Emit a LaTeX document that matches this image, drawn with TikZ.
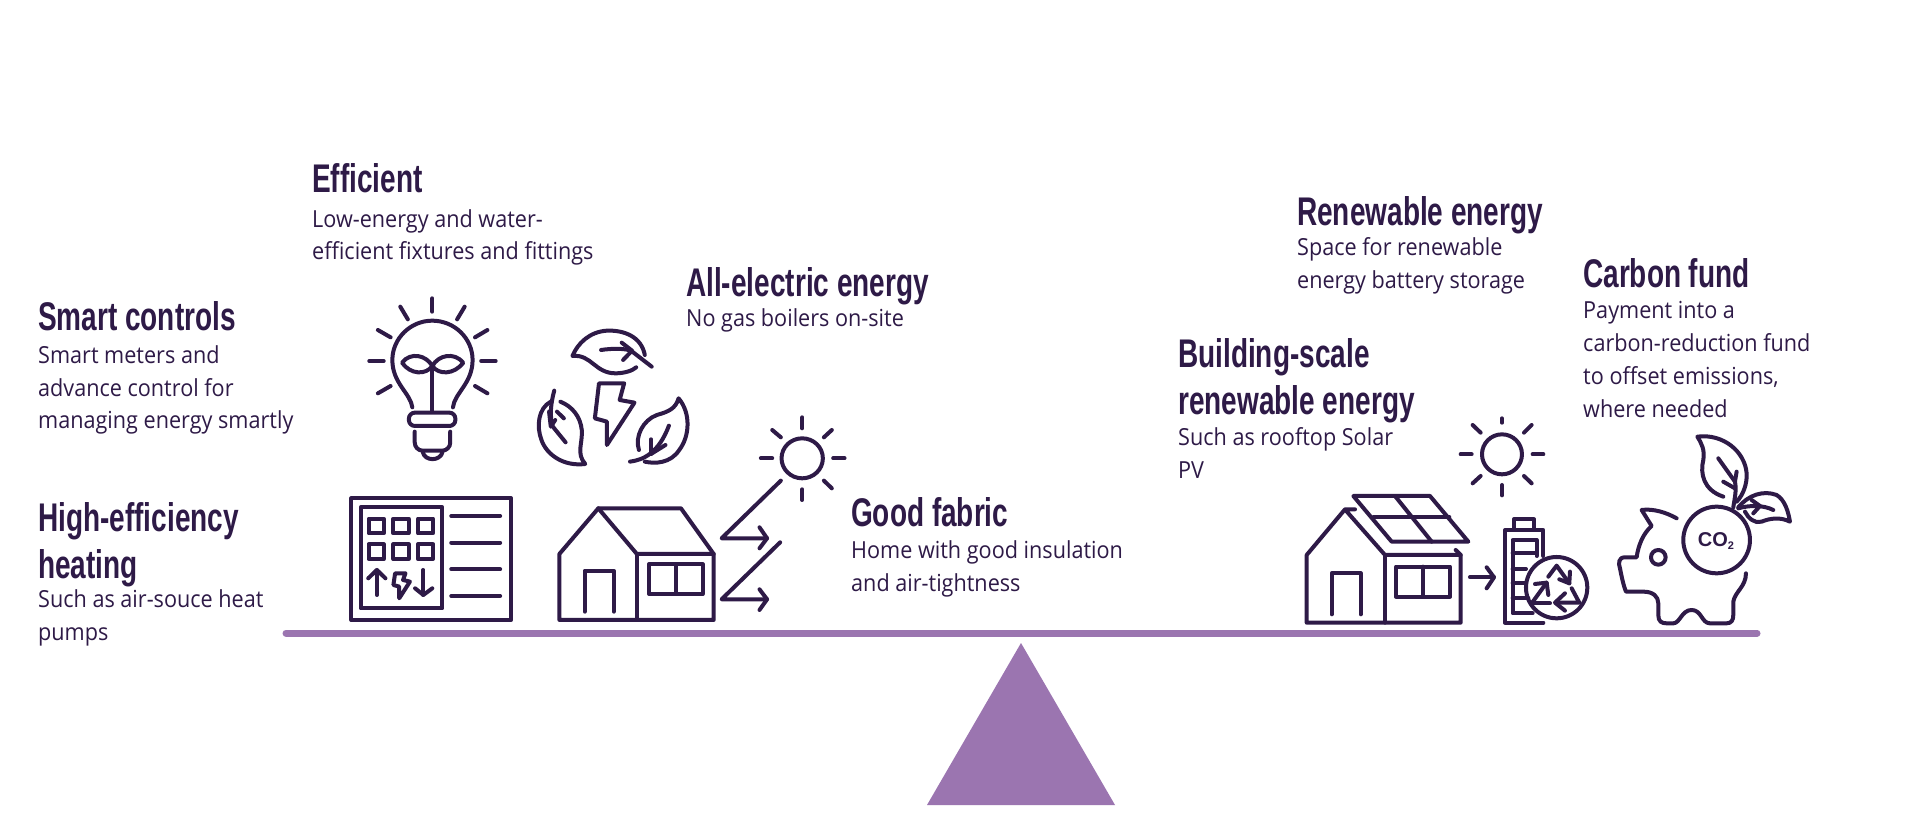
\documentclass[tikz,border=0pt]{standalone}
\usepackage{fontspec}
\setmainfont{Open Sans}
\newfontfamily\headfont[FakeStretch=0.70]{Liberation Sans Bold}
\newfontfamily\bodyfont[FakeStretch=0.92]{Open Sans}
\newfontfamily\cofont{Liberation Sans Bold}
\definecolor{ink}{HTML}{2E1A47}
\definecolor{lilac}{HTML}{9B75B0}
\tikzset{
  head/.style={inner sep=0pt,anchor=base west,align=left,text=ink,font=\headfont\fontsize{40}{47}\selectfont},
  body/.style={inner sep=0pt,anchor=base west,align=left,text=ink,font=\bodyfont\fontsize{23.5}{33}\selectfont},
  icon/.style={draw=ink,line width=4.6pt,line cap=round,line join=round},
  thinicon/.style={draw=ink,line width=4pt,line cap=round,line join=round},
  zoomA/.style={shift={(340,280)},xscale=0.3444,yscale=0.3333},
  zoomB/.style={shift={(1290,420)},xscale=0.3333,yscale=0.3333},
}
\begin{document}
\begin{tikzpicture}[x=1pt,y=-1pt]
\useasboundingbox[fill=white] (0,0) rectangle (1920,840);
% beam and fulcrum
\draw[lilac,line width=7pt,line cap=round] (286,633) -- (1757,633);
\fill[lilac] (1021,643) -- (1115,805) -- (927,805) -- cycle;

% texts
\node[head] (h1) at (312,193) {Efficient};
\node[body] (b1) at (312,227) {Low-energy and water-};
\node[body] (b1b) at (312,259) {efficient fixtures and fittings};
\node[head] (h2) at (38,330) {Smart controls};
\node[body] (b2) at (38,363) {Smart meters and};
\node[body] (b2b) at (38,396) {advance control for};
\node[body] (b2c) at (38,428) {managing energy smartly};
\node[head] (h3) at (686,296) {All-electric energy};
\node[body] (b3) at (686,326) {No gas boilers on-site};
\node[head] (h4) at (851,526) {Good fabric};
\node[body] (b4) at (851,558) {Home with good insulation};
\node[body] (b4b) at (851,591) {and air-tightness};
\node[head] (h5) at (38,531) {High-efficiency};
\node[head] (h5b) at (38,578) {heating};
\node[body] (b5) at (38,607) {Such as air-souce heat};
\node[body] (b5b) at (38,640) {pumps};
\node[head] (h6) at (1297,225) {Renewable energy};
\node[body] (b6) at (1297,255) {Space for renewable};
\node[body] (b6b) at (1297,288) {energy battery storage};
\node[head] (h7) at (1583,287) {Carbon fund};
\node[body] (b7) at (1583,318) {Payment into a};
\node[body] (b7b) at (1583,351) {carbon-reduction fund};
\node[body] (b7c) at (1583,384) {to offset emissions,};
\node[body] (b7d) at (1583,417) {where needed};
\node[head] (h8) at (1178,367) {Building-scale};
\node[head] (h8b) at (1178,414) {renewable energy};
\node[body] (b8) at (1178,445) {Such as rooftop Solar};
\node[body] (b8b) at (1178,478) {PV};

% left icons
\begin{scope}[zoomA]
 % bulb
 \draw[thinicon] (210,382) .. controls (205,340) and (152,310) .. (152,240) .. controls (152,175) and (205,122) .. (268,122) .. controls (332,122) and (385,175) .. (385,240) .. controls (385,310) and (332,340) .. (328,382);
 \draw[thinicon] (268,258) -- (268,395);
 \draw[thinicon] (268,258) .. controls (250,225) and (205,215) .. (180,248) .. controls (205,285) and (250,285) .. (268,258) .. controls (286,225) and (331,215) .. (358,248) .. controls (331,285) and (286,285) .. (268,258);
 \draw[thinicon,rounded corners=6pt] (200,398) rectangle (335,438);
 \draw[thinicon,rounded corners=8pt] (217,455) -- (217,512) -- (320,512) -- (320,455);
 \draw[thinicon] (240,515) .. controls (245,545) and (292,545) .. (298,515);
 \foreach \a/\b/\c/\d in {268/55/268/95,175/80/197/118,362/80/340/118,110/150/147/172,428/150/392/172,85/243/127/243,410/243/452/243,110/340/147/318,428/340/392/318}
   \draw[thinicon] (\a,\b) -- (\c,\d);
 % top leaf
 \draw[thinicon] (885,225) .. controls (875,170) and (825,150) .. (775,152) .. controls (725,155) and (690,190) .. (675,228) .. controls (730,222) and (740,280) .. (800,280) .. controls (825,280) and (850,272) .. (860,262);
 \draw[thinicon] (758,210) .. controls (790,205) and (825,205) .. (845,212) -- (905,260);
 \draw[thinicon] (818,188) -- (848,212) -- (822,240);
 % left leaf
 \draw[thinicon] (612,365) .. controls (575,385) and (570,440) .. (585,480) .. controls (600,525) and (650,560) .. (712,552) .. controls (685,520) and (705,490) .. (702,450) .. controls (698,410) and (675,380) .. (640,365);
 \draw[thinicon] (622,332) .. controls (612,370) and (608,410) .. (618,440) -- (655,487);
 \draw[thinicon] (630,395) -- (650,415);
 \draw[thinicon] (607,395) -- (612,440) -- (625,420);
 % right leaf
 \draw[thinicon] (868,510) .. controls (855,470) and (880,420) .. (920,405) .. controls (955,395) and (975,385) .. (983,355) .. controls (1020,400) and (1015,470) .. (985,510) .. controls (960,550) and (915,552) .. (885,545);
 \draw[thinicon] (842,545) .. controls (880,540) and (925,520) .. (955,437);
 \draw[thinicon] (903,478) -- (903,522);
 \draw[thinicon] (903,522) -- (945,495);
 % bolt
 \draw[thinicon] (752,310) -- (825,310) -- (812,360) -- (855,368) -- (775,495) -- (775,425) -- (740,415) -- cycle;
 % sun
 \draw[thinicon] (1342,535) ellipse [x radius=60,y radius=60];
 \foreach \a/\b/\c/\d in {1342/412/1342/445,1342/628/1342/660,1222/535/1255/535,1432/535/1465/535,1255/450/1280/472,1428/450/1405/472,1405/602/1428/625}
   \draw[thinicon] (\a,\b) -- (\c,\d);
 \draw[thinicon] (1280,602) -- (1108,775) -- (1240,775);
 \draw[thinicon] (1218,742) -- (1240,775) -- (1218,805);
 \draw[thinicon] (1278,787) -- (1108,958) -- (1240,958);
 \draw[thinicon] (1218,928) -- (1240,958) -- (1218,990);
 % house
 \draw[thinicon] (637,822) -- (750,685) -- (990,685) -- (1085,822) -- (1085,1020) -- (637,1020) -- cycle;
 \draw[thinicon] (750,685) -- (862,822) -- (1085,822);
 \draw[thinicon] (862,822) -- (862,1020);
 \draw[thinicon] (710,995) -- (710,872) -- (795,872) -- (795,995);
 \draw[thinicon] (897,853) rectangle (1053,942);
 \draw[thinicon] (977,853) -- (977,942);
 % panel
 \draw[thinicon] (33,655) rectangle (497,1020);
 \draw[thinicon] (60,682) rectangle (297,985);
 \foreach \y in {708,788,868,948} \draw[thinicon] (323,\y) -- (465,\y);
 \foreach \x in {83,155,226} \foreach \y in {716,793} \draw[thinicon] (\x,\y) rectangle ++(44,44);
 \draw[thinicon] (107,945) -- (107,870);
 \draw[thinicon] (82,895) -- (107,870) -- (132,895);
 \draw[thinicon] (242,870) -- (242,945);
 \draw[thinicon] (218,925) -- (242,945) -- (268,925);
 \draw[thinicon] (160,880) -- (190,880) -- (183,900) -- (203,905) -- (172,955) -- (172,920) -- (155,915) -- cycle;
\end{scope}

% right icons
\begin{scope}[zoomB]
 \draw[thinicon] (636,103) circle (60);
 \foreach \a/\b/\c/\d in {636/-5/636/8,636/195/636/226,512/103/545/103,728/103/760/103,548/15/572/38,725/15/702/38,548/190/572/168,725/190/702/168}
   \draw[thinicon] (\a,\b) -- (\c,\d);
 % house
 \draw[thinicon] (195,268) -- (165,268) -- (50,405) -- (50,608) -- (512,608) -- (512,405) -- (285,405) -- (168,272);
 \draw[thinicon] (497,390) -- (512,405);
 \draw[thinicon] (285,405) -- (285,608);
 \draw[thinicon] (125,583) -- (125,460) -- (212,460) -- (212,583);
 \draw[thinicon] (318,440) rectangle (480,530);
 \draw[thinicon] (400,440) -- (400,530);
 \draw[thinicon] (190,228) -- (420,228) -- (535,365) -- (305,365) -- cycle;
 \draw[thinicon] (250,292) -- (478,292);
 \draw[thinicon] (315,228) -- (425,365);
 % arrow
 \draw[thinicon] (540,472) -- (612,472);
 \draw[thinicon] (590,442) -- (612,472) -- (590,505);
 % battery
 \draw[thinicon] (760,408) -- (760,330) -- (645,330) -- (645,608) -- (760,608);
 \draw[thinicon] (672,325) -- (672,298) -- (732,298) -- (732,325);
 \draw[thinicon] (740,408) -- (740,360) -- (668,360) -- (668,580) -- (728,580);
 \draw[thinicon] (668,400) -- (740,400);
 \draw[thinicon] (668,447) -- (708,447);
 \draw[thinicon] (668,490) -- (705,490);
 \draw[thinicon] (668,535) -- (715,535);
 \draw[thinicon] (800,503) circle (92);
 \draw[thinicon] (725,550) -- (770,488);
 \draw[thinicon] (735,492) -- (770,488) -- (775,525);
 \draw[thinicon] (725,550) -- (780,550);
 \draw[thinicon] (775,470) -- (800,437) -- (838,490);
 \draw[thinicon] (840,455) -- (838,490) -- (808,478);
 \draw[thinicon] (845,505) -- (868,548) -- (800,548);
 \draw[thinicon] (825,520) -- (795,548) -- (825,572);
 % piggy
 \draw[thinicon] (1280,360) circle (100);
 \node[inner sep=0pt,text=ink] (co) at (1278,362) {\cofont\fontsize{20}{20}\selectfont CO\raisebox{-3pt}{\fontsize{11}{11}\selectfont 2}};
 \draw[thinicon] (1160,295) .. controls (1130,278) and (1090,265) .. (1055,270) -- (1085,318) .. controls (1060,340) and (1045,375) .. (1040,412) -- (1005,412) .. controls (985,412) and (985,430) .. (990,445) .. controls (995,470) and (1000,495) .. (1008,515) -- (1060,515) .. controls (1090,515) and (1105,530) .. (1105,550) -- (1105,585) .. controls (1105,605) and (1115,610) .. (1130,610) -- (1150,610) .. controls (1170,610) and (1175,570) .. (1205,570) .. controls (1235,570) and (1235,610) .. (1260,610) -- (1310,610) .. controls (1325,610) and (1330,600) .. (1330,585) -- (1330,545) .. controls (1335,515) and (1368,500) .. (1368,460);
 \draw[thinicon] (1105,412) circle (22);
 \draw[thinicon] (1330,262) .. controls (1335,230) and (1340,210) .. (1335,185) -- (1285,115);
 \draw[thinicon] (1300,185) -- (1335,205);
 \draw[thinicon] (1340,155) -- (1335,185);
 \draw[thinicon] (1300,230) .. controls (1240,210) and (1230,160) .. (1240,120) .. controls (1245,90) and (1235,70) .. (1222,50) .. controls (1300,40) and (1365,95) .. (1370,160) .. controls (1372,190) and (1360,225) .. (1340,245);
 \draw[thinicon] (1345,262) .. controls (1375,225) and (1420,210) .. (1460,225) .. controls (1485,240) and (1495,275) .. (1500,305) .. controls (1470,290) and (1440,295) .. (1415,305) .. controls (1395,312) and (1375,295) .. (1365,275);
 \draw[thinicon] (1345,265) .. controls (1380,255) and (1420,255) .. (1450,270);
 \draw[thinicon] (1385,240) -- (1410,258) -- (1390,280);
\end{scope}
\end{tikzpicture}
\end{document}
